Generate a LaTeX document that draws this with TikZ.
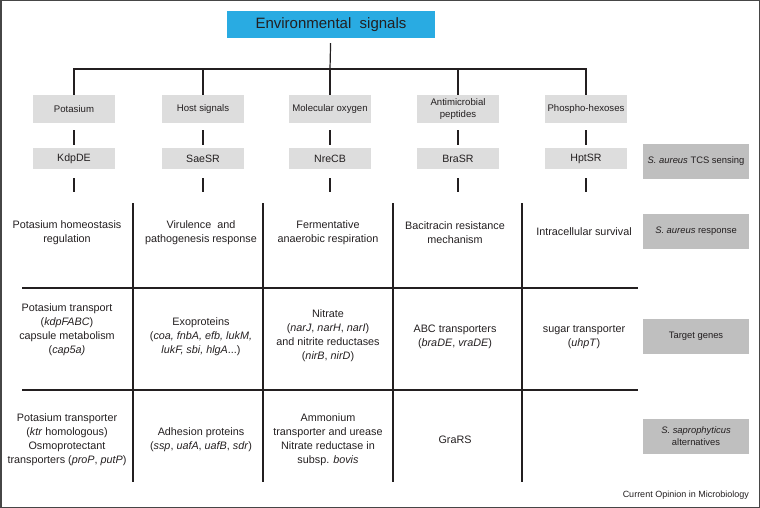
\documentclass[tikz,border=0pt]{standalone}
\usepackage{fontspec}
\setmainfont{Liberation Sans}
\usepackage{xcolor}
\usepackage{tikz}

\definecolor{envblue}{RGB}{41,171,226}
\definecolor{boxgray}{RGB}{221,221,221}
\definecolor{labgray}{RGB}{191,191,191}
\definecolor{ink}{RGB}{35,31,32}
\definecolor{frame}{RGB}{70,70,70}

\tikzset{
  sigbox/.style={fill=boxgray, minimum width=82pt, minimum height=28pt, inner sep=1pt,
    align=center, text=ink, font=\fontsize{9.6}{12}\selectfont},
  tcsbox/.style={fill=boxgray, minimum width=82pt, minimum height=21pt, inner sep=1pt,
    text=ink, font=\fontsize{10.6}{12}\selectfont},
  labbox/.style={fill=labgray, minimum width=106pt, minimum height=35pt, inner sep=1pt,
    align=center, text=ink, font=\fontsize{9.4}{12}\selectfont},
  cell/.style={align=center, inner sep=0pt, text=ink, font=\fontsize{10.8}{14}\selectfont},
  link/.style={draw=ink, line width=1.2pt},
}

\begin{document}
\begin{tikzpicture}[x=1pt,y=-1pt]
  \useasboundingbox (0,0) rectangle (760,508);
  \draw[line width=1.5pt, color=frame] (0.75,0.75) rectangle (759.25,507.25);

  % top of the tree
  \node[fill=envblue, minimum width=208pt, minimum height=27pt, text=ink,
    font=\fontsize{15}{18}\selectfont] (env) at (331,24.5) {Environmental~ signals};
  \coordinate (bus) at (330,69);

  % signals
  \node[sigbox] (potas) at (74,109)  {Potasium};
  \node[sigbox] (host)  at (203,109) {Host signals};
  \node[sigbox] (oxyg)  at (330,109) {Molecular oxygen};
  \node[sigbox] (amp)   at (458,109) {Antimicrobial\\peptides};
  \node[sigbox] (phos)  at (586,109) {Phospho-hexoses};

  % two-component systems
  \node[tcsbox] (kdp) at (74,158.5)  {KdpDE};
  \node[tcsbox] (sae) at (203,158.5) {SaeSR};
  \node[tcsbox] (nre) at (330,158.5) {NreCB};
  \node[tcsbox] (bra) at (458,158.5) {BraSR};
  \node[tcsbox] (hpt) at (586,158.5) {HptSR};

  \draw[link, shorten <=5pt] (env) -- (bus);
  \draw[link] (potas.north) |- (bus);
  \draw[link] (host.north) |- (bus);
  \draw[link] (oxyg.north) -- (bus);
  \draw[link] (amp.north) |- (bus);
  \draw[link] (phos.north) |- (bus);

  \draw[link, shorten <=7pt, shorten >=3pt] (potas) -- (kdp);
  \draw[link, shorten <=7pt, shorten >=3pt] (host) -- (sae);
  \draw[link, shorten <=7pt, shorten >=3pt] (oxyg) -- (nre);
  \draw[link, shorten <=7pt, shorten >=3pt] (amp) -- (bra);
  \draw[link, shorten <=7pt, shorten >=3pt] (phos) -- (hpt);

  \coordinate (kdpend) at (74,192);
  \coordinate (saeend) at (203,192);
  \coordinate (nreend) at (330,192);
  \coordinate (braend) at (458,192);
  \coordinate (hptend) at (586,192);
  \draw[link, shorten <=9pt] (kdp) -- (kdpend);
  \draw[link, shorten <=9pt] (sae) -- (saeend);
  \draw[link, shorten <=9pt] (nre) -- (nreend);
  \draw[link, shorten <=9pt] (bra) -- (braend);
  \draw[link, shorten <=9pt] (hpt) -- (hptend);

  % table lines
  \draw[link] (133,203) -- (133,482);
  \draw[link] (263,203) -- (263,482);
  \draw[link] (393,203) -- (393,482);
  \draw[link] (522,203) -- (522,482);
  \draw[link] (22,288) -- (638,288);
  \draw[link] (22,390) -- (638,390);

  % response
  \node[cell] (resp1) at (67,233)  {Potasium homeostasis\\regulation};
  \node[cell] (resp2) at (201,233) {Virulence~ and\\pathogenesis response};
  \node[cell] (resp3) at (328,233) {Fermentative\\anaerobic respiration};
  \node[cell] (resp4) at (455,233) {Bacitracin resistance\\mechanism};
  \node[cell] (resp5) at (584,232) {Intracellular survival};

  % target genes
  \node[cell] (gene1) at (67,330)  {Potasium transport\\(\textit{kdpFABC})\\capsule metabolism\\(\textit{cap5a)}};
  \node[cell] (gene2) at (201,337) {Exoproteins\\(\textit{coa, fnbA, efb, lukM,}\\\textit{lukF, sbi, hlgA}...)};
  \node[cell] (gene3) at (328,336) {Nitrate\\(\textit{narJ}, \textit{narH}, \textit{narI})\\and nitrite reductases\\(\textit{nirB}, \textit{nirD})};
  \node[cell] (gene4) at (455,337) {ABC transporters\\(\textit{braDE}, \textit{vraDE})};
  \node[cell] (gene5) at (584,337) {sugar transporter\\(\textit{uhpT})};

  % alternatives
  \node[cell] (alt1) at (67,440)  {Potasium transporter\\(\textit{ktr} homologous)\\Osmoprotectant\\transporters (\textit{proP}, \textit{putP})};
  \node[cell] (alt2) at (201,440) {Adhesion proteins\\(\textit{ssp}, \textit{uafA}, \textit{uafB}, \textit{sdr})};
  \node[cell] (alt3) at (328,440) {Ammonium\\transporter and urease\\Nitrate reductase in\\subsp. \textit{bovis}};
  \node[cell] (alt4) at (455,440) {GraRS};

  % row labels
  \node[labbox] (labtcs)  at (696,161.5) {\textit{S. aureus} TCS sensing};
  \node[labbox] (labresp) at (696,231.5) {\textit{S. aureus} response};
  \node[labbox] (labgene) at (696,336)   {Target genes};
  \node[labbox] (labalt)  at (696,436)   {\textit{S. saprophyticus}\\alternatives};

  \node[anchor=east, inner sep=0pt, text=ink, font=\fontsize{9}{11}\selectfont] (credit) at (749,495) {Current Opinion in Microbiology};
\end{tikzpicture}
\end{document}
